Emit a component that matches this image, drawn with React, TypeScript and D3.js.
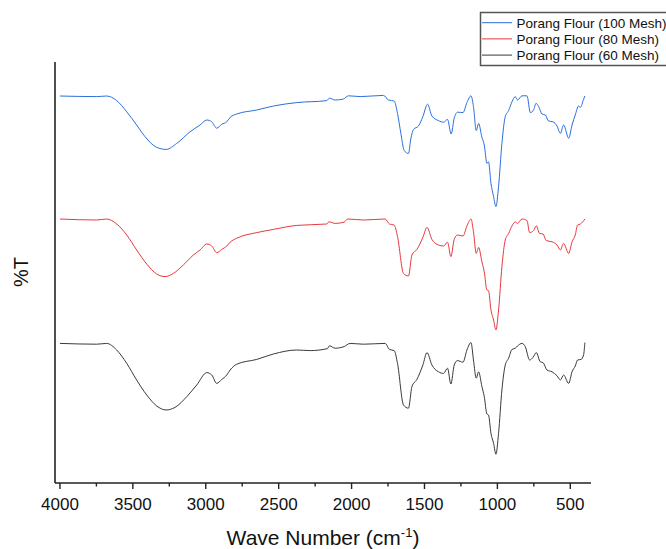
import React from "react";
import * as d3 from "d3";

// FTIR spectra of porang flour
// each point: [wave number (cm-1), %T (offset per sample)]
const seriesNames = ["Porang Flour (100 Mesh)", "Porang Flour (80 Mesh)", "Porang Flour (60 Mesh)"];
const seriesColors = ["#2b6fdc", "#e8383d", "#3a3a3a"];

const majorTicks = [4000, 3500, 3000, 2500, 2000, 1500, 1000, 500];
const minorTicks = [3750, 3250, 2750, 2250, 1750, 1250, 750];

const mesh100: [number, number][] = [
  [4000, 96.75], [3748, 96.6], [3680, 96.75], [3611, 95.6], [3542, 92.8], [3474, 89.5],
  [3417, 86.6], [3336, 83.9], [3272, 83.4], [3199, 84.9], [3108, 87.8], [3039, 89.5],
  [2993, 90.75], [2959, 90.3], [2925, 88.7], [2890, 89.7], [2856, 90.3], [2833, 91.4],
  [2787, 92.25], [2650, 93.25], [2536, 94.25], [2376, 95.1], [2170, 95.6], [2152, 96.2],
  [2113, 95.75], [2056, 96], [2021, 96.8], [1941, 96.6], [1781, 96.9], [1747, 95.75],
  [1708, 95.5], [1685, 92.4], [1662, 87.4], [1639, 83.1], [1610, 82.4], [1593, 86.2],
  [1575, 88.4], [1541, 89.25], [1511, 91.6], [1479, 94.7], [1449, 91.75], [1404, 90.6],
  [1369, 90.2], [1342, 90.9], [1317, 87.25], [1296, 91.2], [1273, 92.7], [1236, 92.6],
  [1209, 95.1], [1181, 96.8], [1164, 94.1], [1145, 88.1], [1129, 89.9], [1106, 86.4],
  [1090, 84.5], [1072, 79.9], [1061, 80.3], [1044, 74.9], [1026, 71.6], [1010, 69.1],
  [992, 74.1], [969, 84.9], [946, 91.6], [923, 93.1], [900, 95.3], [877, 96.6],
  [862, 95.75], [831, 96.8], [797, 96.8], [774, 92.6], [752, 93.25], [735, 94.9],
  [717, 94.1], [694, 92.25], [671, 92], [649, 90.5], [619, 90.3], [591, 89.25],
  [568, 87.4], [546, 89.5], [511, 86.2], [488, 89.5], [466, 92], [443, 94.25],
  [431, 93.9], [409, 95.9], [400, 96.75],
];

const mesh80: [number, number][] = [
  [4000, 66], [3748, 65.75], [3680, 66], [3611, 64.75], [3542, 62], [3474, 58.25],
  [3405, 54.75], [3336, 52.25], [3279, 51.6], [3222, 52.4], [3154, 54.5], [3085, 57],
  [3039, 58.25], [2993, 59.75], [2959, 59.25], [2925, 57.6], [2890, 58.4], [2856, 59.25],
  [2833, 60.2], [2787, 61.2], [2650, 62.6], [2536, 63.4], [2376, 64.4], [2170, 64.75],
  [2156, 65.3], [2113, 64.9], [2051, 65.2], [2028, 66], [1918, 65.75], [1770, 66],
  [1740, 64.75], [1708, 64.5], [1685, 61.6], [1644, 52.4], [1610, 51.75], [1586, 57],
  [1552, 58.4], [1511, 61.4], [1483, 63.9], [1449, 60.9], [1404, 59.5], [1369, 59.25],
  [1342, 60.2], [1319, 56.6], [1296, 60.9], [1273, 62], [1236, 61.75], [1209, 64.25],
  [1181, 66], [1164, 62.8], [1145, 57.4], [1129, 58.9], [1106, 55.3], [1090, 52.8],
  [1072, 48.25], [1061, 48.1], [1044, 43.25], [1026, 40.75], [1010, 38.25], [992, 43.25],
  [969, 54.1], [946, 60.75], [923, 62.4], [900, 64.25], [877, 65.3], [862, 64.9],
  [831, 66], [797, 65.6], [779, 62.6], [752, 63.1], [733, 64.3], [711, 62.4],
  [687, 62.25], [665, 60.6], [625, 60.3], [591, 59.5], [568, 58.25], [546, 59.9],
  [511, 57.4], [488, 60.3], [466, 62], [450, 64.5], [431, 64.75], [400, 66],
];

const mesh60: [number, number][] = [
  [4000, 34.9], [3748, 34.7], [3680, 34.9], [3611, 33.25], [3542, 29.9], [3474, 25.75],
  [3405, 22], [3336, 19.25], [3272, 18.25], [3211, 18.9], [3130, 21.6], [3062, 24.5],
  [2993, 27.6], [2959, 27], [2925, 24.9], [2890, 25.9], [2856, 27], [2833, 28.25],
  [2787, 29.7], [2650, 30.9], [2536, 32.25], [2376, 33.25], [2284, 33.1], [2165, 33.6],
  [2152, 34.3], [2113, 33.7], [2051, 34.1], [2010, 34.9], [1918, 34.7], [1770, 34.9],
  [1740, 33.4], [1708, 33.1], [1685, 29.9], [1644, 19.5], [1610, 18.7], [1586, 24.1],
  [1552, 25.9], [1511, 29.5], [1483, 32.6], [1449, 29.5], [1404, 27.8], [1369, 27.4],
  [1342, 28.7], [1319, 24.75], [1296, 29.5], [1273, 30.6], [1236, 30.2], [1209, 33.25],
  [1181, 35.1], [1164, 30.75], [1145, 26.2], [1129, 27.8], [1106, 24.1], [1090, 21.6],
  [1072, 17.25], [1061, 17], [1044, 12.4], [1026, 9.9], [1010, 7.2], [992, 12.4],
  [969, 23.25], [946, 29.5], [923, 31.2], [900, 33.4], [877, 33.7], [862, 34.25],
  [831, 34.9], [809, 34.1], [779, 30.75], [756, 31.4], [733, 32.6], [706, 30.3],
  [687, 30.1], [660, 28.25], [625, 27.8], [591, 26.8], [568, 25.75], [546, 27],
  [511, 24.9], [488, 27.8], [466, 29.25], [450, 30.75], [426, 30.9], [409, 32], [400, 35.1],
];

const allSeries = [mesh100, mesh80, mesh60];

const font = "Arial, 'Liberation Sans', sans-serif";

export default function App() {
  const width = 666;
  const height = 549;
  const left = 55, right = 591, top = 63, bottom = 483;

  const x = d3.scaleLinear().domain([4034, 358]).range([left, right]);
  const y = d3.scaleLinear().domain([0, 105]).range([bottom, top]);

  const line = d3
    .line<[number, number]>()
    .x((d) => x(d[0]))
    .y((d) => y(d[1]))
    .curve(d3.curveMonotoneX);

  return (
    <svg
      width={width}
      height={height}
      style={{ position: "absolute", left: 0, top: 0, background: "#fff" }}
      fontFamily={font}
    >
      {/* spectra */}
      <g fill="none" strokeWidth={1}>
        {allSeries.map((s, i) => (
          <path key={i} d={line(s) || ""} stroke={seriesColors[i]} />
        ))}
      </g>

      {/* axes */}
      <line x1={left} x2={left} y1={top - 1} y2={bottom} stroke="#222" strokeWidth={1.6} />
      <line x1={left} x2={right} y1={bottom} y2={bottom} stroke="#222" strokeWidth={1.6} />
      {majorTicks.map((t) => (
        <g key={t} transform={`translate(${x(t)},0)`}>
          <line y1={bottom} y2={bottom + 6} stroke="#222" strokeWidth={1.4} />
          <text y={510} textAnchor="middle" fontSize={17} fill="#111">
            {t}
          </text>
        </g>
      ))}
      {minorTicks.map((t) => (
        <line key={t} x1={x(t)} x2={x(t)} y1={bottom} y2={bottom + 3.5} stroke="#222" strokeWidth={1.4} />
      ))}

      {/* axis titles */}
      <text x={(left + right) / 2} y={545} textAnchor="middle" fontSize={21} fill="#111">
        Wave Number (cm
        <tspan fontSize={13} dy={-8}>-1</tspan>
        <tspan dy={8}>)</tspan>
      </text>
      <text
        transform={`translate(28,272) rotate(-90)`}
        textAnchor="middle"
        fontSize={20}
        fill="#111"
      >
        %T
      </text>

      {/* legend */}
      <rect x={480.5} y={12.5} width={200} height={53} fill="#fff" stroke="#555" strokeWidth={1.5} />
      {seriesNames.map((name, i) => {
        const ry = 22.7 + i * 16.2;
        return (
          <g key={name}>
            <line x1={482} x2={512} y1={ry} y2={ry} stroke={seriesColors[i]} strokeWidth={1} />
            <text x={516.5} y={ry + 4.8} fontSize={13.5} fill="#111">
              {name}
            </text>
          </g>
        );
      })}
    </svg>
  );
}
